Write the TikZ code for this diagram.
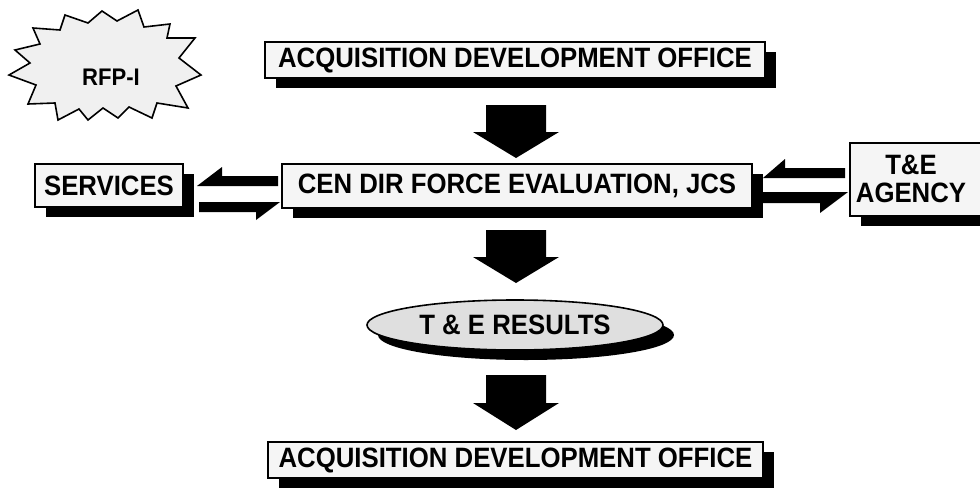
\documentclass[tikz,border=0pt]{standalone}
\usepackage{fontspec}
\setmainfont{Liberation Sans}
\usetikzlibrary{shadows,shapes.geometric}
\newcommand\sq[1]{\scalebox{0.92}[1]{#1}}
\begin{document}
\begin{tikzpicture}[x=1pt,y=-1pt,
  txt/.style={font=\fontsize{28}{28}\selectfont\bfseries, inner sep=0pt, align=center},
  shd/.style={drop shadow={shadow xshift=11pt,shadow yshift=-10pt,fill=black,opacity=1}},
  box/.style={txt, draw=black, line width=2pt, fill=gray!8, shd},
  blk/.style={fill=black}]
\useasboundingbox (0,0) rectangle (980,490);

% starburst
\draw[line width=1.6pt, fill=gray!12, line join=miter, miter limit=20]
  (9,75) -- (30,63) -- (15,50) -- (40,44) -- (33,28) -- (60,30) -- (65,15) -- (88,23)
  -- (102,11) -- (117,21) -- (138,10) -- (144,27) -- (170,24) -- (167,38) -- (195,38)
  -- (179,58) -- (201,75) -- (176,86) -- (188,108) -- (157,103) -- (152,118) -- (129,107)
  -- (118,118) -- (103,108) -- (88,120) -- (79,109) -- (58,120) -- (55,103) -- (28,104)
  -- (36,85) -- cycle;
\node[font=\fontsize{24}{24}\selectfont\bfseries, inner sep=0pt] (rfp) at (111,77) {\sq{RFP-I}};

% boxes
\node[box, minimum width=500, minimum height=36] (ado1) at (515,60) {\sq{ACQUISITION DEVELOPMENT OFFICE}};
\node[box, minimum width=470, minimum height=44] (cen) at (517,186) {\sq{CEN DIR FORCE EVALUATION, JCS}};
\node[box, minimum width=148, minimum height=43] (srv) at (109,185.5) {\sq{SERVICES}};
\node[box, minimum width=140, minimum height=73] (tea) at (920,179.5) {};
\node[txt] (teatxt) at (911,179) {\sq{T\&E}\\\sq{AGENCY}};
\node[txt, ellipse, draw=black, line width=1.6pt, fill=gray!25, shd, minimum width=296, minimum height=50] (res) at (515,325) {\sq{T \& E RESULTS}};
\node[box, minimum width=495, minimum height=36] (ado2) at (515.5,460) {\sq{ACQUISITION DEVELOPMENT OFFICE}};

% down block arrows
\newcommand\downblk[4]{\fill[blk] (#1-30,#2) -- (#1+30,#2) -- (#1+30,#3) -- (#1+43,#3) -- (#1,#4) -- (#1-43,#3) -- (#1-30,#3) -- cycle;}
\downblk{516}{105}{132}{158}
\downblk{516}{230}{257}{283}
\downblk{516}{375}{403}{430}

% harpoon arrows left
\fill[blk] (278,176) -- (222,176) -- (222,167) -- (197,186) -- (278,186) -- cycle;
\fill[blk] (199,202) -- (280,202) -- (256,220) -- (256,212) -- (199,212) -- cycle;
% harpoon arrows right
\fill[blk] (845,168) -- (785,168) -- (785,159) -- (763,178) -- (845,178) -- cycle;
\fill[blk] (763,192) -- (848,192) -- (820,213) -- (820,203) -- (763,203) -- cycle;
\end{tikzpicture}
\end{document}
